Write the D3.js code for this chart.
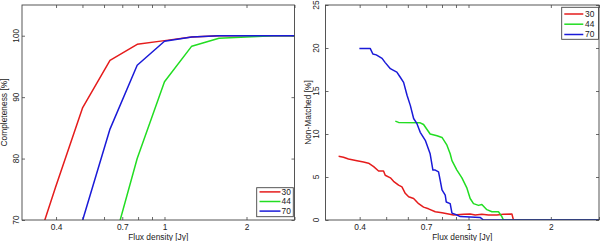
<!DOCTYPE html>
<html><head><meta charset="utf-8">
<script src="https://cdn.jsdelivr.net/npm/d3@7"></script>
<style>
html,body{margin:0;padding:0;background:#fff;}
svg{display:block;font-family:"Liberation Sans",Arial,Helvetica,sans-serif;}
</style></head>
<body><svg id="c" width="600" height="241"></svg>
<script>
// ---------- data ----------
const seriesNames = ["30", "44", "70"];
const xTicks = [0.4, 0.5, 0.6, 0.7, 0.8, 0.9, 1, 2, 3];
const xTickLabels = [0.4, 0.7, 1, 2];
const yTicksCompl = [70, 80, 90, 100];
const yTicksNM = [0, 5, 10, 15, 20, 25];

// Completeness (left)
const complFlux30 = [0.316, 0.398, 0.501, 0.631, 0.794, 1.0, 1.259, 1.585, 1.995, 2.512, 3.0];
const compl30     = [61.7, 75.3, 88.3, 96.0, 98.6, 99.2, 99.8, 100, 100, 100, 100];
const complFlux44 = [0.631, 0.794, 1.0, 1.259, 1.585, 1.995, 2.512, 3.0];
const compl44     = [64.0, 80.0, 92.5, 98.3, 99.6, 99.8, 100, 100];
const complFlux70 = [0.501, 0.631, 0.794, 1.0, 1.259, 1.585, 1.995, 2.512, 3.0];
const compl70     = [70.0, 84.8, 95.2, 99.1, 99.8, 100, 100, 100, 100];

// Non-matched (right)
const nmFlux30 = [0.335,0.349,0.364,0.391,0.413,0.431,0.450,0.469,0.489,0.496,0.518,0.532,0.555,0.571,0.587,0.604,0.630,0.657,0.685,0.714,0.756,0.800,0.845,0.882,0.959,1.014,1.058,1.119,1.183,1.270,1.342,1.441,1.460,3.0];
const nm30     = [7.4,7.3,7.1,6.9,6.75,6.6,6.2,5.7,5.7,5.2,4.9,4.5,4.05,3.85,3.1,2.7,2.5,1.9,1.5,1.3,0.96,0.85,0.7,0.58,0.66,0.7,0.58,0.66,0.58,0.58,0.66,0.7,0,0];
const nmFlux44 = [0.540,0.555,0.666,0.685,0.724,0.767,0.800,0.834,0.857,0.870,0.907,0.946,0.987,1.014,1.043,1.088,1.119,1.167,1.218,1.287,1.324,1.342,3.0];
const nm44     = [11.5,11.35,11.3,11.1,10.0,9.8,9.6,8.7,7.7,6.9,5.8,4.9,3.7,2.5,1.9,1.7,1.8,1.2,0.96,0.96,0.4,0,0];
const nmFlux70 = [0.399,0.437,0.447,0.460,0.483,0.496,0.518,0.532,0.547,0.563,0.579,0.596,0.613,0.630,0.648,0.666,0.695,0.724,0.741,0.756,0.777,0.788,0.800,0.822,0.829,0.857,0.870,0.907,0.933,1.103,1.134,3.0];
const nm70     = [19.95,19.95,19.3,19.2,18.8,18.3,17.6,17.4,17.2,16.6,16.0,14.5,13.3,11.8,11.2,10.2,9.26,7.7,5.8,5.8,5.6,4.6,3.5,2.9,2.1,1.9,0.8,0.58,0.4,0.3,0,0];

// ---------- drawing ----------
const colors = ["#e51c1c", "#22dd22", "#1a1ad8"];
const FS = 8.4;
const svg = d3.select("#c");
const axisColor = "#444";

function panel(opts) {
  const {left, right, top, bottom, yDomain, yTicks, series, ylabel, yLabelX, tickLabelX, legend, id} = opts;
  const x = d3.scaleLog().domain([0.3, 3]).range([left, right]);
  const y = d3.scaleLinear().domain(yDomain).range([bottom, top]);
  const g = svg.append("g");

  g.append("clipPath").attr("id", id).append("rect")
    .attr("x", left).attr("y", top).attr("width", right - left).attr("height", bottom - top);

  // ticks (inward, all four sides)
  const fmt = d => xTickLabels.includes(d) ? String(d) : "";
  const ax = g.append("g").attr("transform", `translate(0,${bottom})`)
    .call(d3.axisBottom(x).tickValues(xTicks).tickSize(-3).tickPadding(3.8).tickFormat(fmt));
  const axT = g.append("g").attr("transform", `translate(0,${top})`)
    .call(d3.axisTop(x).tickValues(xTicks).tickSize(-3).tickFormat(""));
  const axL = g.append("g").attr("transform", `translate(${left},0)`)
    .call(d3.axisLeft(y).tickValues(yTicks).tickSize(-3).tickFormat(""));
  const axR = g.append("g").attr("transform", `translate(${right},0)`)
    .call(d3.axisRight(y).tickValues(yTicks).tickSize(-3).tickFormat(""));
  [ax, axT, axL, axR].forEach(a => {
    a.select(".domain").remove();
    a.selectAll("line").attr("stroke", axisColor).attr("stroke-width", 0.8);
    a.selectAll("text").attr("font-size", FS).attr("fill", "#222").attr("font-family", null);
  });

  // rotated y tick labels
  g.selectAll(".ytl").data(yTicks).enter().append("text")
    .attr("transform", d => `translate(${tickLabelX},${y(d)}) rotate(-90)`)
    .attr("text-anchor", "middle").attr("font-size", FS).attr("fill", "#222")
    .text(d => d);

  // lines
  const line = d3.line().x(d => x(d[0])).y(d => y(d[1]));
  const lg = g.append("g").attr("clip-path", `url(#${id})`);
  series.forEach((s, i) => {
    lg.append("path").datum(d3.zip(s[0], s[1]))
      .attr("fill", "none").attr("stroke", colors[i]).attr("stroke-width", 1.5)
      .attr("stroke-linejoin", "round").attr("d", line);
  });

  // box
  g.append("rect").attr("x", left).attr("y", top).attr("width", right - left).attr("height", bottom - top)
    .attr("fill", "none").attr("stroke", axisColor).attr("stroke-width", 0.9);

  // axis labels
  g.append("text").attr("x", (left + right) / 2).attr("y", 239.6)
    .attr("text-anchor", "middle").attr("font-size", FS).attr("fill", "#222").text("Flux density [Jy]");
  g.append("text").attr("transform", `translate(${yLabelX},${(top + bottom) / 2}) rotate(-90)`)
    .attr("text-anchor", "middle").attr("font-size", FS).attr("fill", "#222").text(ylabel);

  // legend
  const L = legend;
  g.append("rect").attr("x", L.x0).attr("y", L.y0).attr("width", L.x1 - L.x0).attr("height", L.y1 - L.y0)
    .attr("fill", "#fff").attr("stroke", axisColor).attr("stroke-width", 0.9);
  seriesNames.forEach((n, i) => {
    const yy = L.ys[i];
    g.append("line").attr("x1", L.lx0).attr("x2", L.lx1).attr("y1", yy).attr("y2", yy)
      .attr("stroke", colors[i]).attr("stroke-width", 1.5);
    g.append("text").attr("x", L.tx).attr("y", yy).attr("dy", "0.35em")
      .attr("font-size", FS).attr("fill", "#222").text(n);
  });
}

panel({
  id: "clipL", left: 22, right: 294.5, top: 5, bottom: 220,
  yDomain: [70, 105], yTicks: yTicksCompl,
  series: [[complFlux30, compl30], [complFlux44, compl44], [complFlux70, compl70]],
  ylabel: "Completeness [%]", yLabelX: 7.2, tickLabelX: 18.5,
  legend: {x0: 256.7, x1: 293.3, y0: 187.7, y1: 216.7, lx0: 259.5, lx1: 280.5, tx: 281.5, ys: [191.9, 201.5, 211.1]}
});
panel({
  id: "clipR", left: 325.5, right: 599, top: 5, bottom: 220,
  yDomain: [0, 25], yTicks: yTicksNM,
  series: [[nmFlux30, nm30], [nmFlux44, nm44], [nmFlux70, nm70]],
  ylabel: "Non-Matched [%]", yLabelX: 310.8, tickLabelX: 318.5,
  legend: {x0: 561.7, x1: 598.5, y0: 7.3, y1: 39.3, lx0: 564.3, lx1: 583.3, tx: 585, ys: [14, 24.2, 34.5]}
});
</script>
</body></html>
